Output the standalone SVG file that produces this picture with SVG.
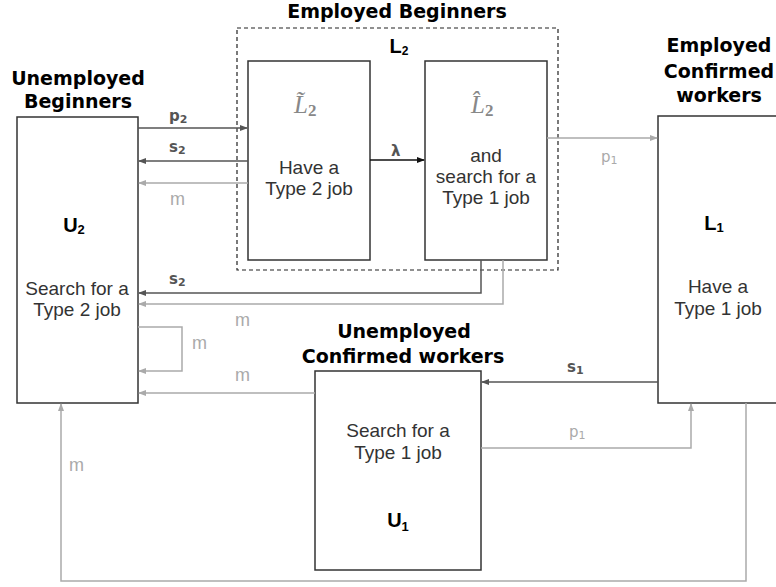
<svg xmlns="http://www.w3.org/2000/svg" width="776" height="587" viewBox="0 0 776 587">
<style>
.box{fill:#fff;stroke:#333;stroke-width:1.5}
.t{font-family:"Liberation Sans",Arial,sans-serif;font-size:19px;fill:#333;text-anchor:middle}
.h{font-family:"DejaVu Sans",Verdana,sans-serif;font-size:19px;font-weight:bold;fill:#000;text-anchor:middle}
.v{font-family:"Liberation Sans",Arial,sans-serif;font-size:20px;font-weight:bold;fill:#000;text-anchor:middle}
.lb{font-family:"DejaVu Sans",Verdana,sans-serif;font-size:15px;font-weight:bold;fill:#555}
.lg{font-family:"DejaVu Sans",Verdana,sans-serif;font-size:15px;fill:#aaa}
.m{font-family:"Liberation Sans",Arial,sans-serif;font-size:18px;fill:#aaa}
.math{font-family:"Liberation Serif","Times New Roman",serif;font-size:25px;font-style:italic;fill:#888}
.dk{fill:none;stroke:#555;stroke-width:1.5}
.lt{fill:none;stroke:#aaa;stroke-width:1.5}
.bk{fill:none;stroke:#111;stroke-width:1.5}
</style>
<defs>
<marker id="ad" markerWidth="8" markerHeight="8" refX="7" refY="4" orient="auto" markerUnits="userSpaceOnUse"><path d="M0,1 L8,4 L0,7 z" fill="#555"/></marker>
<marker id="al" markerWidth="8" markerHeight="8" refX="7" refY="4" orient="auto" markerUnits="userSpaceOnUse"><path d="M0,1 L8,4 L0,7 z" fill="#aaa"/></marker>
<marker id="ab" markerWidth="8" markerHeight="8" refX="7" refY="4" orient="auto" markerUnits="userSpaceOnUse"><path d="M0,1 L8,4 L0,7 z" fill="#111"/></marker>
</defs>
<rect width="776" height="587" fill="#fff"/>

<g id="employed-beginners">
<text class="h" x="397" y="18">Employed Beginners</text>
<rect x="237" y="28" width="321" height="242" fill="none" stroke="#222" stroke-width="1.2" stroke-dasharray="4,3"/>
<text class="v" x="399" y="53" font-size="16">L<tspan font-size="12" dy="2">2</tspan></text>
</g>

<g id="L2tilde">
<rect class="box" x="248" y="61" width="122" height="199"/>
<text class="math" x="294" y="113">L&#x303;<tspan font-size="17" font-style="normal" font-weight="bold" dy="3">2</tspan></text>
<text class="t" x="309" y="174">Have a</text>
<text class="t" x="309" y="195">Type 2 job</text>
</g>

<g id="L2hat">
<rect class="box" x="425" y="61" width="122" height="199"/>
<text class="math" x="471" y="113">L&#x302;<tspan font-size="17" font-style="normal" font-weight="bold" dy="3">2</tspan></text>
<text class="t" x="486" y="162">and</text>
<text class="t" x="486" y="183">search for a</text>
<text class="t" x="486" y="204">Type 1 job</text>
</g>

<g id="U2">
<text class="h" x="78" y="85">Unemployed</text>
<text class="h" x="78" y="108">Beginners</text>
<rect class="box" x="17" y="117" width="121" height="286"/>
<text class="v" x="74" y="232">U<tspan font-size="13" dy="2">2</tspan></text>
<text class="t" x="77" y="295">Search for a</text>
<text class="t" x="77" y="316">Type 2 job</text>
</g>

<g id="L1">
<text class="h" x="719" y="52">Employed</text>
<text class="h" x="719" y="78">Confirmed</text>
<text class="h" x="719" y="102">workers</text>
<rect class="box" x="658" y="116" width="125" height="287"/>
<text class="v" x="714" y="230">L<tspan font-size="13" dy="2">1</tspan></text>
<text class="t" x="718" y="293">Have a</text>
<text class="t" x="718" y="315">Type 1 job</text>
</g>

<g id="U1">
<text class="h" x="404" y="338">Unemployed</text>
<text class="h" x="403" y="363">Confirmed workers</text>
<rect class="box" x="315" y="371" width="166" height="199"/>
<text class="t" x="398" y="437">Search for a</text>
<text class="t" x="398" y="459">Type 1 job</text>
<text class="v" x="398" y="527">U<tspan font-size="13" dy="4">1</tspan></text>
</g>

<g id="connectors">
<line class="dk" x1="138" y1="128" x2="247" y2="128" marker-end="url(#ad)"/>
<line class="dk" x1="248" y1="161" x2="139" y2="161" marker-end="url(#ad)"/>
<line class="lt" x1="248" y1="183" x2="139" y2="183" marker-end="url(#al)"/>
<line class="bk" x1="370" y1="160" x2="424" y2="160" marker-end="url(#ab)"/>
<line class="lt" x1="547" y1="138" x2="657" y2="138" marker-end="url(#al)"/>
<polyline class="dk" points="481,260 481,293 139,293" marker-end="url(#ad)"/>
<polyline class="lt" points="503,260 503,304 139,304" marker-end="url(#al)"/>
<polyline class="lt" points="138,327 182,327 182,371 139,371" marker-end="url(#al)"/>
<line class="lt" x1="315" y1="393" x2="139" y2="393" marker-end="url(#al)"/>
<line class="dk" x1="658" y1="382" x2="482" y2="382" marker-end="url(#ad)"/>
<polyline class="lt" points="481,448 691,448 691,404" marker-end="url(#al)"/>
<polyline class="lt" points="746,403 746,581 61,581 61,404" marker-end="url(#al)"/>

<text class="lb" x="169" y="121">p<tspan font-size="11" dy="2">2</tspan></text>
<text class="lb" x="169" y="152">s<tspan font-size="11" dy="2">2</tspan></text>
<text class="m" x="170" y="205">m</text>
<text class="lb" x="391" y="156" font-family="'Liberation Serif',serif" font-size="18" fill="#111">λ</text>
<text class="lg" x="601" y="162">p<tspan font-size="11" dy="2">1</tspan></text>
<text class="lb" x="169" y="284">s<tspan font-size="11" dy="2">2</tspan></text>
<text class="m" x="235" y="326">m</text>
<text class="m" x="192" y="349">m</text>
<text class="m" x="235" y="381">m</text>
<text class="lb" x="567" y="372">s<tspan font-size="11" dy="2">1</tspan></text>
<text class="lg" x="569" y="437">p<tspan font-size="11" dy="2">1</tspan></text>
<text class="m" x="69" y="471">m</text>
</g>
</svg>
